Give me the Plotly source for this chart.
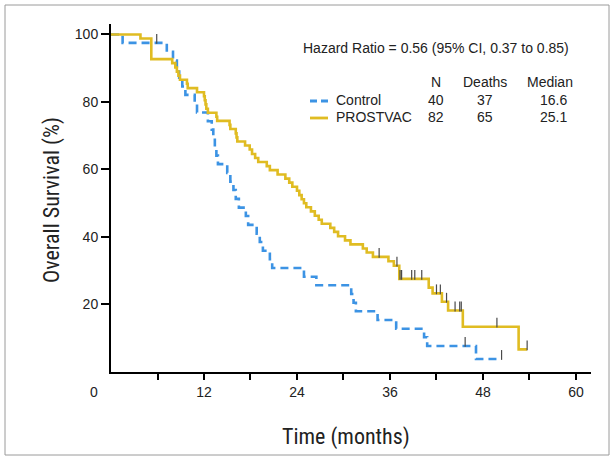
import plotly.graph_objects as go

# ---------------- data ----------------
control_t = [0, 1.5, 7.2, 8.0, 8.5, 8.8, 9.2, 9.6, 10.8, 11.1,
             12.5, 13.0, 13.2, 13.4, 13.6, 13.8, 15.0, 15.4, 15.8, 16.1,
             16.5, 17.4, 17.7, 18.8, 19.2, 19.6, 20.5, 20.8, 24.9, 26.5,
             31.0, 31.3, 31.6, 34.4, 36.8, 40.4, 40.8, 47.1, 50.4]
control_s = [100, 97.5, 94.9, 92.3, 89.8, 87.2, 84.6, 82.1, 79.5, 76.9,
             74.3, 71.8, 69.2, 66.7, 64.1, 61.6, 59.0, 56.4, 53.9, 51.3,
             48.7, 46.2, 43.6, 41.0, 38.5, 35.9, 33.4, 30.8, 28.2, 25.7,
             23.1, 20.5, 18.0, 15.4, 12.8, 10.3, 7.7, 3.85, 3.85]
control_cens_t = [5.9, 45.7, 50.4]
control_cens_s = [97.5, 7.7, 3.85]

prost_t = [0, 3.8, 5.2, 7.9, 8.3, 8.5, 8.7, 8.9, 9.8, 9.9,
           11.1, 12.0, 12.1, 12.2, 12.3, 12.5, 13.6, 13.7, 15.3, 15.4,
           16.1, 16.2, 16.3, 17.3, 17.9, 18.2, 18.6, 19.0, 20.1, 20.5,
           21.5, 22.5, 23.0, 23.4, 24.0, 24.3, 24.6, 24.9, 25.2, 25.8,
           26.3, 26.8, 27.2, 28.3, 28.8, 29.3, 30.2, 30.9, 32.5, 33.0,
           33.8, 35.8, 36.5, 37.2, 41.0, 41.5, 42.7, 43.5, 45.4, 52.6, 53.7]
prost_s = [100, 98.8, 92.7, 91.5, 90.2, 89.0, 87.8, 86.6, 85.4, 84.1,
           82.9, 81.7, 80.5, 79.3, 78.0, 76.8, 75.6, 74.4, 73.2, 72.0,
           70.7, 69.5, 68.3, 67.1, 65.9, 64.6, 63.4, 62.2, 61.0, 59.8,
           58.5, 57.3, 56.1, 54.9, 53.7, 52.4, 51.2, 50.0, 48.8, 47.6,
           46.3, 45.1, 43.9, 42.7, 41.5, 40.2, 39.0, 37.8, 36.6, 35.4,
           34.1, 32.8, 31.5, 27.6, 25.0, 23.3, 20.8, 18.2, 13.4, 6.7, 6.7]
prost_cens_t = [34.6, 36.9, 37.3, 37.5, 38.8, 39.2, 40.1, 42.0, 42.5,
                43.3, 44.4, 45.0, 45.2, 49.8, 53.7]
prost_cens_s = [34.1, 31.5, 27.6, 27.6, 27.6, 27.6, 27.6, 23.3, 23.3,
                20.8, 18.2, 18.2, 18.2, 13.4, 6.7]

x_tickvals = [6, 12, 18, 24, 30, 36, 42, 48, 54, 60]
x_ticktext = ["", "12", "", "24", "", "36", "", "48", "", "60"]
y_tickvals = [20, 40, 60, 80, 100]

legend_groups = ["Control", "PROSTVAC"]
legend_n = ["40", "82"]
legend_deaths = ["37", "65"]
legend_median = ["16.6", "25.1"]

# ---------------- style ----------------
BLUE = "#3C93E4"
GOLD = "#E0BC22"
TICKC = "#4a4a4a"
TXT = "#222222"
FONT = "Liberation Sans, Arial, sans-serif"
NARROW = "Liberation Sans Narrow, Roboto Condensed, Liberation Sans, Arial, sans-serif"

W, H = 615, 461
L, R, T, B = 111, 24, 24, 89
PW, PH = W - L - R, H - T - B


def px(x):
    return (x - L) / PW


def py(y):
    return (H - B - y) / PH


fig = go.Figure()

fig.add_trace(go.Scatter(x=control_t, y=control_s, mode="lines",
                         line=dict(shape="hv", color=BLUE, width=2.6, dash="8px,5px"),
                         name="Control", showlegend=False, hoverinfo="skip"))
fig.add_trace(go.Scatter(x=prost_t, y=prost_s, mode="lines",
                         line=dict(shape="hv", color=GOLD, width=2.6),
                         name="PROSTVAC", showlegend=False, hoverinfo="skip"))

# censor ticks drawn just above the curve
fig.add_trace(go.Scatter(x=control_cens_t, y=[s + 1.2 for s in control_cens_s], mode="markers",
                         marker=dict(symbol="line-ns", size=7, line=dict(color=TICKC, width=1.2)),
                         showlegend=False, hoverinfo="skip"))
fig.add_trace(go.Scatter(x=prost_cens_t, y=[s + 1.2 for s in prost_cens_s], mode="markers",
                         marker=dict(symbol="line-ns", size=7, line=dict(color=TICKC, width=1.2)),
                         showlegend=False, hoverinfo="skip"))

fig.update_layout(
    width=W, height=H,
    margin=dict(l=L, r=R, t=T, b=B),
    paper_bgcolor="white", plot_bgcolor="white",
    font=dict(family=FONT, color=TXT, size=14),
    showlegend=False,
    xaxis=dict(range=[0, 61.94], showgrid=False, zeroline=False,
               showline=True, linecolor="black", linewidth=2,
               ticks="outside", ticklen=6, tickwidth=1.5, tickcolor="black",
               tickvals=x_tickvals, ticktext=x_ticktext,
               tickfont=dict(size=14, color=TXT, family=FONT)),
    yaxis=dict(range=[0, 103.1], showgrid=False, zeroline=False,
               showline=True, linecolor="black", linewidth=2,
               ticks="outside", ticklen=8, tickwidth=1.5, tickcolor="black",
               tickvals=y_tickvals,
               tickfont=dict(size=14, color=TXT, family=FONT)),
)

ann = []
# "0" label offset to the left of the origin
ann.append(dict(xref="paper", yref="paper", x=px(94), y=py(392), text="0",
                showarrow=False, xanchor="center", yanchor="middle",
                font=dict(size=14, family=FONT, color=TXT)))
# axis titles
ann.append(dict(xref="paper", yref="paper", x=px(346), y=py(437), text="Time (months)",
                showarrow=False, xanchor="center", yanchor="middle",
                font=dict(size=22, family=NARROW, color=TXT)))
ann.append(dict(xref="paper", yref="paper", x=px(52), y=py(200), text="Overall Survival (%)",
                showarrow=False, xanchor="center", yanchor="middle", textangle=-90,
                font=dict(size=22, family=NARROW, color=TXT)))
# legend / stats block
ann.append(dict(xref="paper", yref="paper", x=px(301), y=py(48),
                text="Hazard Ratio = 0.56 (95% CI, 0.37 to 0.85)",
                showarrow=False, xanchor="left", yanchor="middle",
                font=dict(size=14, family=FONT, color=TXT)))
for txt, cx in [("N", 436), ("Deaths", 485), ("Median", 550)]:
    ann.append(dict(xref="paper", yref="paper", x=px(cx), y=py(82), text=txt,
                    showarrow=False, xanchor="center", yanchor="middle",
                    font=dict(size=14, family=FONT, color=TXT)))
rows_y = [100, 117]
for i, ry in enumerate(rows_y):
    ann.append(dict(xref="paper", yref="paper", x=px(334), y=py(ry), text=legend_groups[i],
                    showarrow=False, xanchor="left", yanchor="middle",
                    font=dict(size=14, family=FONT, color=TXT)))
    for txt, cx in [(legend_n[i], 436), (legend_deaths[i], 485), (legend_median[i], 553)]:
        ann.append(dict(xref="paper", yref="paper", x=px(cx), y=py(ry), text=txt,
                        showarrow=False, xanchor="center", yanchor="middle",
                        font=dict(size=14, family=FONT, color=TXT)))
fig.update_layout(annotations=ann)

shapes = []
# legend line samples
shapes.append(dict(type="line", xref="paper", yref="paper",
                   x0=px(310), x1=px(328), y0=py(101), y1=py(101),
                   line=dict(color=BLUE, width=2.8, dash="7px,4px")))
shapes.append(dict(type="line", xref="paper", yref="paper",
                   x0=px(310), x1=px(328), y0=py(118), y1=py(118),
                   line=dict(color=GOLD, width=2.8)))
# outer frame around the whole figure
shapes.append(dict(type="rect", xref="paper", yref="paper",
                   x0=px(5), x1=px(609), y0=py(455), y1=py(5),
                   line=dict(color="#9a9a9a", width=1)))
fig.update_layout(shapes=shapes)

fig.write_html("out.html",
               config={"displayModeBar": False},
               post_script="document.body.style.margin='0';document.body.style.padding='0';"
                           "document.body.style.overflow='hidden';")
